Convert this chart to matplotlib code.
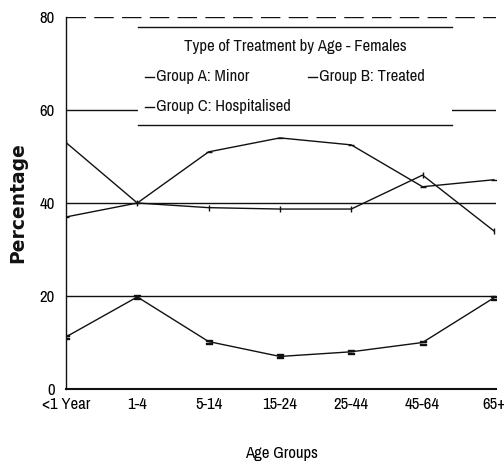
"""Type of treatment by age - females (line chart, black on white)."""

import matplotlib

matplotlib.use("Agg")
import matplotlib.pyplot as plt
from matplotlib.patches import Rectangle

AGE_GROUPS = ["<1 Year", "1-4", "5-14", "15-24", "25-44", "45-64", "65+"]
GROUP_A = [37, 40, 51, 54, 52.5, 43.5, 45]
GROUP_B = [53, 40, 39, 38.7, 38.7, 46, 34]
GROUP_C = [11.2, 19.8, 10.2, 7, 8, 10, 19.6]
SERIES_LABELS = ["Group A: Minor", "Group B: Treated", "Group C: Hospitalised"]
Y_TICKS = [0, 20, 40, 60, 80]
TITLE = "Type of Treatment by Age - Females"

NARROW = ["Archivo Narrow", "DejaVu Sans"]
INK = "#111111"

plt.rcParams.update({
    "font.family": NARROW,
    "font.size": 12,
    "text.color": INK,
    "axes.edgecolor": INK,
})

fig = plt.figure(figsize=(5.04, 4.67), dpi=100)
ax = fig.add_axes([66 / 504, 1 - 389 / 467, 430 / 504, 372 / 467])

x = list(range(len(AGE_GROUPS)))

# gridlines, the top one broken
for v in Y_TICKS[1:-1]:
    ax.axhline(v, color=INK, lw=1.0, zorder=1)
ax.axhline(Y_TICKS[-1], color=INK, lw=1.0, ls=(0, (14, 6)), zorder=1)

markers = ["_", "|", "$=$"]
for ys, m in zip([GROUP_A, GROUP_B, GROUP_C], markers):
    ax.plot(x, ys, color=INK, lw=1.0, marker=m, markersize=5, zorder=3)

ax.set_xlim(0, 6.03)
ax.set_ylim(0, 80)
ax.set_xticks(x)
ax.set_xticklabels(AGE_GROUPS, fontsize=12)
ax.set_yticks(Y_TICKS)
ax.set_yticklabels([str(v) for v in Y_TICKS], fontsize=12)
ax.tick_params(length=0, pad=6)
ax.tick_params(axis="y", pad=8)
for s in ("top", "right"):
    ax.spines[s].set_visible(False)
ax.spines["left"].set_linewidth(1.0)
ax.spines["bottom"].set_linewidth(1.5)

ax.set_xlabel("Age Groups", fontsize=12, labelpad=24)
fig.text(18 / 504, 1 - 203 / 467, "Percentage", family="DejaVu Sans",
         fontweight="bold", fontsize=13.5, rotation=90, ha="center", va="center")

# legend box: white fill, rules top and bottom only
tr = ax.transAxes
x0, x1 = (138 - 66) / 430, (452 - 66) / 430
y_top, y_bot = (389 - 27) / 372, (389 - 125) / 372
ax.add_patch(Rectangle((x0, y_bot), x1 - x0, y_top - y_bot, transform=tr,
                       facecolor="white", edgecolor="none", zorder=4, clip_on=False))
for yy in (y_top, y_bot):
    ax.plot([x0, x1], [yy, yy], transform=tr, color=INK, lw=1.0, zorder=5, clip_on=False)

ax.text((295 - 66) / 430, (389 - 46) / 372, TITLE, transform=tr, ha="center",
        va="center", fontsize=12, zorder=6)

entries = [((145 - 66) / 430, (389 - 77) / 372),
           ((308 - 66) / 430, (389 - 77) / 372),
           ((145 - 66) / 430, (389 - 107) / 372)]
for (ex, ey), label, m in zip(entries, SERIES_LABELS, markers):
    ax.plot([ex, ex + 0.022], [ey, ey], transform=tr, color=INK, lw=1.0,
            zorder=6, clip_on=False)
    ax.text(ex + 0.026, ey, label, transform=tr, ha="left", va="center",
            fontsize=12, zorder=6)

fig.savefig("out.png", dpi=100)
